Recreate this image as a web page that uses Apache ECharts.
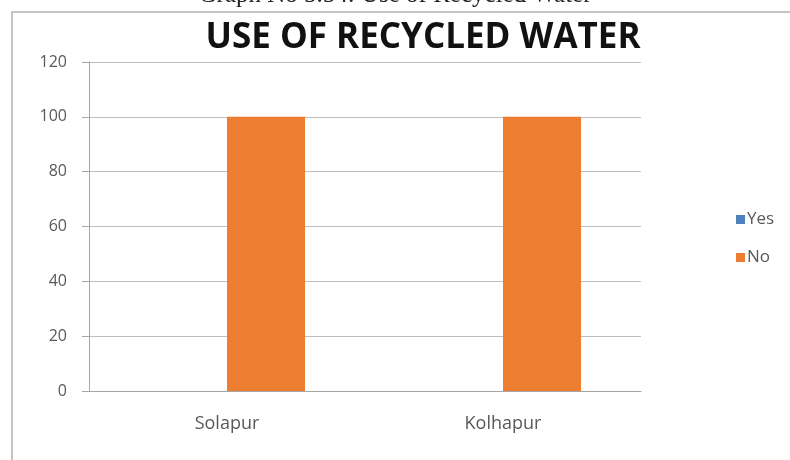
<!DOCTYPE html>
<html>
<head>
<meta charset="utf-8">
<script src="https://cdn.jsdelivr.net/npm/echarts@6/dist/echarts.min.js"></script>
<style>html,body{margin:0;padding:0;background:#fff}#c{width:790px;height:460px}</style>
</head>
<body>
<div id="c"></div>
<script>
const categories = ['Solapur', 'Kolhapur'];
const yesValues = [0, 0];
const noValues = [100, 100];
const yTicks = [0, 20, 40, 60, 80, 100, 120];

const chart = echarts.init(document.getElementById('c'));
chart.setOption({
  animation: false,
  backgroundColor: '#fff',
  title: {
    text: 'USE OF RECYCLED WATER',
    left: 418, top: 16, textAlign: 'center',
    textStyle: { fontFamily: 'Open Sans', fontWeight: 'bold', fontSize: 35, color: '#111' }
  },
  graphic: [
    { type: 'text', left: 'center', top: -17,
      style: { text: 'Graph No 5.54: Use of Recycled Water', font: '25px "Liberation Serif"', fill: '#222' } },
    { type: 'polyline', shape: { points: [[12, 460], [12, 12], [790, 12]] },
      style: { stroke: '#c4c4c4', lineWidth: 2, fill: null } }
  ],
  legend: {
    orient: 'vertical', left: 731, top: 206, itemWidth: 9, itemHeight: 9, itemGap: 21,
    icon: 'rect',
    textStyle: { fontFamily: 'Open Sans', fontSize: 17, color: '#595959', padding: [0, 0, 0, -3] },
    data: ['Yes', 'No']
  },
  grid: { left: 89, right: 149, top: 62, bottom: 69 },
  xAxis: {
    type: 'category', data: categories,
    axisLine: { lineStyle: { color: '#a6a6a6' } },
    axisTick: { length: 6, lineStyle: { color: '#a6a6a6' } },
    axisLabel: { fontFamily: 'Open Sans', fontSize: 18, color: '#595959', margin: 24 }
  },
  yAxis: {
    type: 'value', min: 0, max: 120, interval: 20,
    axisLine: { show: true, lineStyle: { color: '#a6a6a6' } },
    axisTick: { show: true, length: 7, lineStyle: { color: '#a6a6a6' } },
    splitLine: { lineStyle: { color: '#bfbfbf' } },
    axisLabel: { fontFamily: 'Open Sans', fontSize: 16, color: '#595959', margin: 22,
      formatter: v => yTicks.includes(v) ? String(v) : '' }
  },
  series: [
    { name: 'Yes', type: 'bar', data: yesValues, barWidth: 78, barGap: '0%', itemStyle: { color: '#4f81bd' } },
    { name: 'No', type: 'bar', data: noValues, barWidth: 78, barGap: '0%', itemStyle: { color: '#ed7d31' } }
  ]
});
</script>
</body>
</html>
